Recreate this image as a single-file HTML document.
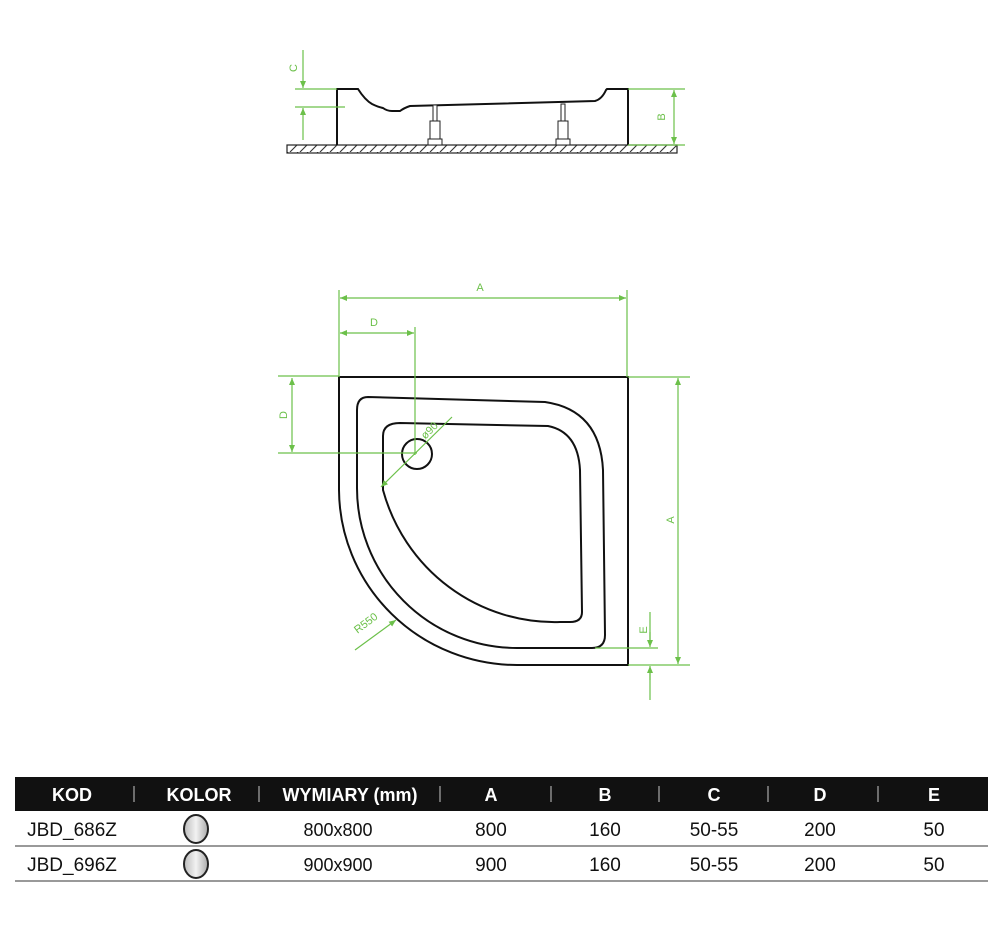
<!DOCTYPE html>
<html><head><meta charset="utf-8"><style>
html,body{margin:0;padding:0;background:#fff;width:1000px;height:947px;overflow:hidden}
svg{display:block}
.g{stroke:#6cc04a;stroke-width:1.2;fill:none}
.k{stroke:#111;stroke-width:2;fill:none}
.gt{fill:#6cc04a;font-family:"Liberation Sans",sans-serif;font-size:11px}
.h{font-family:"Liberation Sans Narrow","Liberation Sans",sans-serif;font-weight:bold;font-size:18px;fill:#fff}
.r{font-family:"Liberation Sans Narrow","Liberation Sans",sans-serif;font-size:19px;fill:#111}
</style></head><body>
<svg width="1000" height="947" viewBox="0 0 1000 947">
<defs>
<marker id="a" markerWidth="8" markerHeight="8" refX="7" refY="4" orient="auto-start-reverse" markerUnits="userSpaceOnUse"><path d="M0,1 L7,4 L0,7" fill="#6cc04a"/></marker>
<pattern id="hat" width="10" height="8" patternUnits="userSpaceOnUse"><path d="M0,8 L8,0 M10,8 L18,0" stroke="#333" stroke-width="1.1"/></pattern>
</defs>
<!-- side view -->
<rect x="287" y="145" width="390" height="8" fill="url(#hat)" stroke="#222" stroke-width="1.2"/>
<path class="k" d="M337,145 V89 H358 Q365,100 372,104 Q378,107 383,108 Q387,111 392,111 H400 Q404,108 410,106 L595,101 Q602,99 606,90 L607,89 H628 V145" stroke-width="1.6"/>
<g stroke="#222" fill="#fff" stroke-width="1">
<rect x="433" y="105" width="4" height="16"/><rect x="430" y="121" width="10" height="18"/><rect x="428" y="139" width="14" height="6"/>
<rect x="561" y="104" width="4" height="17"/><rect x="558" y="121" width="10" height="18"/><rect x="556" y="139" width="14" height="6"/>
</g>
<path class="g" d="M295,89 H337 M295,107 H345 M628,89 H685 M628,145 H685"/>
<line class="g" x1="303" y1="50" x2="303" y2="88" marker-end="url(#a)"/>
<line class="g" x1="303" y1="140" x2="303" y2="108" marker-end="url(#a)"/>
<line class="g" x1="674" y1="90" x2="674" y2="144" marker-start="url(#a)" marker-end="url(#a)"/>
<text class="gt" transform="translate(297,68) rotate(-90)" text-anchor="middle">C</text>
<text class="gt" transform="translate(665,117) rotate(-90)" text-anchor="middle">B</text>
<!-- plan view -->
<path class="k" d="M339,377 H628 V665 H517 A178,176 0 0 1 339,490 Z"/>
<path class="k" d="M368,397 L545,402 Q600,410 603,470 L605,635 Q605,648 592,648 L517,648 A160,160 0 0 1 357,487 L357,410 Q357,397 368,397 Z"/>
<path class="k" d="M400,423 L548,426 Q578,432 580,470 L582,612 Q582,622 570,622 L560,622 A178,180 0 0 1 383,490 L383,436 Q383,423 400,423 Z"/>
<circle cx="417" cy="454" r="15" class="k"/>
<path class="g" d="M339,290 V377 M627,290 V377 M415,327 V455 M278,376 H339 M278,453 H417 M628,377 H690 M628,665 H690 M650,612 V645 M595,648 H658 M650,668 V700"/>
<line class="g" x1="340" y1="298" x2="626" y2="298" marker-start="url(#a)" marker-end="url(#a)"/>
<line class="g" x1="340" y1="333" x2="414" y2="333" marker-start="url(#a)" marker-end="url(#a)"/>
<line class="g" x1="292" y1="378" x2="292" y2="452" marker-start="url(#a)" marker-end="url(#a)"/>
<line class="g" x1="678" y1="378" x2="678" y2="664" marker-start="url(#a)" marker-end="url(#a)"/>
<line class="g" x1="650" y1="632" x2="650" y2="647" marker-end="url(#a)"/>
<line class="g" x1="650" y1="680" x2="650" y2="666" marker-end="url(#a)"/>
<line class="g" x1="381" y1="487" x2="452" y2="417" marker-start="url(#a)"/>
<line class="g" x1="355" y1="650" x2="396" y2="620" marker-end="url(#a)"/>
<text class="gt" x="480" y="291" text-anchor="middle">A</text>
<text class="gt" x="374" y="326" text-anchor="middle">D</text>
<text class="gt" transform="translate(287,415) rotate(-90)" text-anchor="middle">D</text>
<text class="gt" transform="translate(674,520) rotate(-90)" text-anchor="middle">A</text>
<text class="gt" transform="translate(647,630) rotate(-90)" text-anchor="middle">E</text>
<text class="gt" transform="translate(432,433) rotate(-45)" text-anchor="middle" font-size="10">ø90</text>
<text class="gt" transform="translate(368,626) rotate(-37)" text-anchor="middle" font-size="10">R550</text>
<!-- table -->
<rect x="15" y="777" width="973" height="34" fill="#111"/>
<g stroke="#aaa" stroke-width="1.2"><path d="M134,786 V802 M259,786 V802 M440,786 V802 M551,786 V802 M659,786 V802 M768,786 V802 M878,786 V802"/></g>
<g class="h" text-anchor="middle">
<text x="72" y="801">KOD</text><text x="199" y="801">KOLOR</text><text x="350" y="801">WYMIARY (mm)</text>
<text x="491" y="801">A</text><text x="605" y="801">B</text><text x="714" y="801">C</text><text x="820" y="801">D</text><text x="934" y="801">E</text>
</g>
<rect x="15" y="845" width="973" height="2" fill="#999"/>
<rect x="15" y="880" width="973" height="2" fill="#999"/>
<g class="r" text-anchor="middle">
<text x="72" y="836">JBD_686Z</text><text x="338" y="836" font-size="18">800x800</text><text x="491" y="836">800</text><text x="605" y="836">160</text><text x="714" y="836">50-55</text><text x="820" y="836">200</text><text x="934" y="836">50</text>
<text x="72" y="871">JBD_696Z</text><text x="338" y="871" font-size="18">900x900</text><text x="491" y="871">900</text><text x="605" y="871">160</text><text x="714" y="871">50-55</text><text x="820" y="871">200</text><text x="934" y="871">50</text>
</g>
<defs><linearGradient id="cg" x1="0" x2="1"><stop offset="0" stop-color="#bbb"/><stop offset=".5" stop-color="#f2f2f2"/><stop offset="1" stop-color="#aaa"/></linearGradient></defs>
<ellipse cx="196" cy="829" rx="12" ry="14" fill="url(#cg)" stroke="#222" stroke-width="2"/>
<ellipse cx="196" cy="864" rx="12" ry="14" fill="url(#cg)" stroke="#222" stroke-width="2"/>
</svg>
</body></html>
